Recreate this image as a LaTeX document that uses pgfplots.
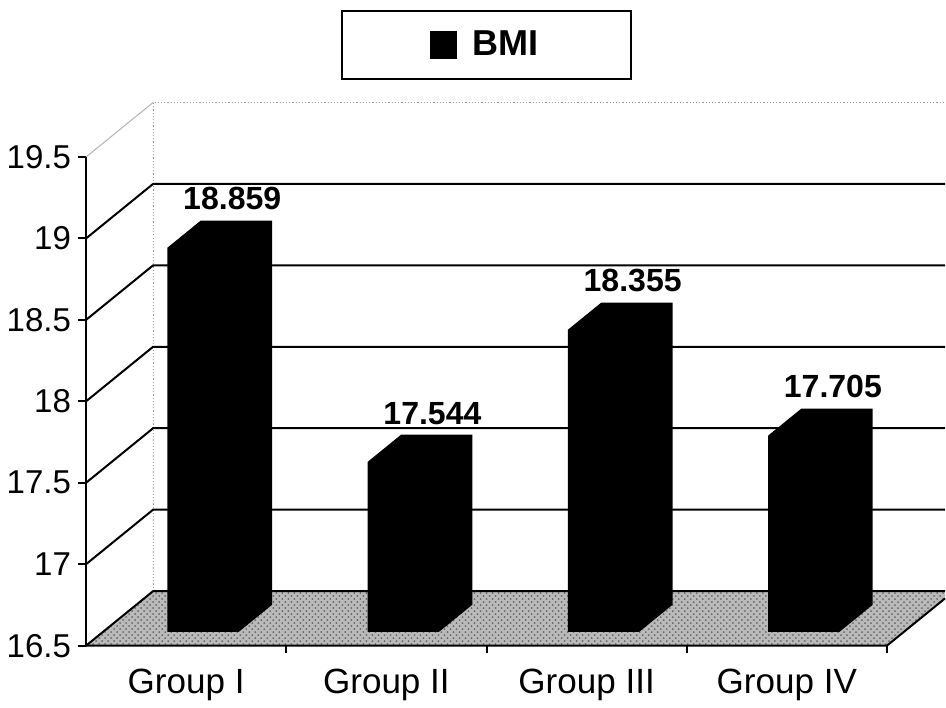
\documentclass[border=0pt]{standalone}
\usepackage{fontspec}
\setmainfont{Liberation Sans}
\usepackage{pgfplots}
\usepackage{pgfplotstable}
\pgfplotsset{compat=1.18}
\usetikzlibrary{patterns}

% mean BMI per group
\pgfplotstableread{
grp bmi
0 18.859
1 17.544
2 18.355
3 17.705
}\bmidata

\begin{document}
\begin{tikzpicture}
\begin{axis}[
  x=100pt, y=81.35pt,
  xmin=-0.5, xmax=3.79,
  ymin=16.5, ymax=20.464,
  clip=false,
  axis line style={draw=none},
  /pgf/number format/assume math mode=true,
  ytick={16.5,17,17.5,18,18.5,19,19.5},
  ytick pos=left,
  tick align=outside,
  major tick length=4pt,
  ytick style={black, line width=1pt},
  yticklabel style={font=\fontsize{16.5}{18}\selectfont},
  xtick={0,1,2,3},
  xticklabels={Group I,Group II,Group III,Group IV},
  xtick pos=bottom,
  xtick style={draw=none},
  xticklabel style={yshift=-4pt, font=\fontsize{17.5}{19}\selectfont},
  legend style={
    at={(axis cs:1.5,20.188)}, anchor=center,
    draw=black, line width=0.8pt,
    inner xsep=44pt, inner ysep=8pt,
    font=\bfseries\fontsize{18}{20}\selectfont,
  },
  legend image code/.code={
    \fill[black] (0pt,-6.8pt) rectangle (12.5pt,6.8pt);
    \path[draw=none, fill=none] (12.5pt,0pt) -- (19pt,0pt);
  },
]

\addlegendimage{black}
\addlegendentry{BMI}

% floor of the chart box
\addplot[draw=none, fill=black!27,
  postaction={pattern=crosshatch dots, pattern color=black!60}]
  coordinates {(-0.5,16.5) (3.5,16.5) (3.79,16.79) (3.79,16.835) (-0.165,16.835)};

% back wall edges (faint)
\addplot[black!40, densely dotted, line width=0.6pt]
  coordinates {(-0.165,16.835) (-0.165,19.835) (3.79,19.835)};
\addplot[black!30, line width=0.5pt]
  coordinates {(-0.5,19.5) (-0.165,19.835)};

% gridlines on side and back wall
\pgfplotsinvokeforeach{16.5,17,17.5,18,18.5,19}{
  \addplot[black, line width=1pt]
    coordinates {(-0.5,#1) (-0.165,#1+0.335) (3.79,#1+0.335)};
}

% front floor edge, right floor edge, front value axis
\addplot[black, line width=1pt] coordinates {(-0.5,16.5) (3.5,16.5) (3.79,16.79)};
\addplot[black, line width=1pt] coordinates {(-0.5,16.5) (-0.5,19.5)};

% category separators below the floor
\addplot[black, line width=1pt, unbounded coords=jump]
  coordinates {(0.5,16.5) (0.5,16.455) (nan,nan)
               (1.5,16.5) (1.5,16.455) (nan,nan)
               (2.5,16.5) (2.5,16.455) (nan,nan)
               (3.5,16.5) (3.5,16.455)};

% columns: front face at depth 0.25, back face at depth 0.75
\pgfplotsinvokeforeach{0,1,2,3}{
  \pgfplotstablegetelem{#1}{bmi}\of\bmidata
  \pgfmathsetmacro\ytf{\pgfplotsretval+0.084}
  \pgfmathsetmacro\ytb{\pgfplotsretval+0.251}
  \pgfmathsetmacro\xl{#1-0.094}
  \pgfmathsetmacro\xr{#1+0.262}
  \pgfmathsetmacro\xlb{#1+0.073}
  \pgfmathsetmacro\xrb{#1+0.429}
  \addplot[fill=black, draw=none]
    coordinates {(\xl,16.584) (\xl,\ytf) (\xlb,\ytb) (\xrb,\ytb) (\xrb,16.751) (\xr,16.584)};
}

% value labels above the columns
\addplot[draw=none, mark=none, point meta=explicit,
  nodes near coords={\pgfmathprintnumber[fixed,fixed zerofill,precision=3,assume math mode=true]{\pgfplotspointmeta}},
  every node near coord/.style={anchor=south, inner sep=0pt, yshift=5pt,
    font=\bfseries\fontsize{16}{17}\selectfont}]
  table[x expr=\thisrow{grp}+0.23, y expr=\thisrow{bmi}+0.251, meta=bmi]{\bmidata};
\end{axis}
\end{tikzpicture}
\end{document}
